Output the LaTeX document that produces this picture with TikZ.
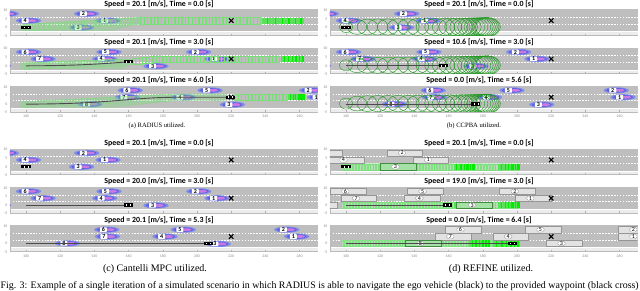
\documentclass[tikz,border=0pt]{standalone}
\usepackage{fontspec}
\setmainfont{Liberation Serif}
\newfontfamily\ttlfont{Carlito}
\usepackage{graphicx}
\definecolor{roadgray}{RGB}{190,190,190}
\definecolor{stripgray}{RGB}{236,236,236}
\definecolor{axgray}{RGB}{140,140,140}
\definecolor{vehblue}{RGB}{90,100,225}
\definecolor{vehblueL}{RGB}{130,140,232}
\definecolor{vehpink}{RGB}{205,120,225}
\definecolor{lgreen}{RGB}{115,225,115}
\definecolor{bgreen}{RGB}{0,235,0}
\definecolor{dgreen}{RGB}{25,150,25}
\definecolor{trajgray}{RGB}{75,75,75}
\definecolor{boxgray}{RGB}{226,226,226}
\definecolor{boxedge}{RGB}{150,150,150}
\tikzset{
  ttl/.style={font=\ttlfont\bfseries\fontsize{7.9}{7.9}\selectfont, inner sep=0pt},
  ticklab/.style={font=\ttlfont\fontsize{3.9}{3.9}\selectfont, text=axgray, inner sep=0pt},
  vlabel/.style={fill=white, inner sep=0pt, minimum width=7pt, minimum height=4.6pt, rounded corners=0.6pt, font=\ttlfont\bfseries\fontsize{6}{6}\selectfont},
  rlabel/.style={fill=white, draw=boxedge, line width=0.3pt, inner sep=0pt, minimum width=7.5pt, minimum height=4.6pt, rounded corners=1.8pt, font=\ttlfont\fontsize{6}{6}\selectfont},
  subcap/.style={font=\fontsize{6.6}{6.6}\selectfont, inner sep=0pt},
  subcapB/.style={font=\fontsize{10}{10}\selectfont, inner sep=0pt},
  lane/.style={white, line width=0.5pt, dash pattern=on 1.6pt off 1.3pt},
  traj/.style={trajgray, line width=0.9pt},
  ladderbox/.style={lgreen, line width=0.35pt},
  agpoly/.style={fill=lgreen, fill opacity=0.3, draw=lgreen, draw opacity=0.8, line width=0.35pt},
  ring/.style={dgreen, line width=0.4pt},
  rbx/.style={fill=boxgray, draw=boxedge, line width=0.35pt},
  rbxg/.style={fill=lgreen!55!boxgray, draw=dgreen!60!gray, line width=0.35pt},
}
% vehicles (ellipses)
\newcommand\vehnl[2]{%
  \fill[vehblueL] (#1+2,#2) ellipse [x radius=7.4, y radius=1.8];
  \fill[vehblue] (#1+2,#2) ellipse [x radius=5.8, y radius=1.35];
  \fill[vehpink] (#1+4,#2) ellipse [x radius=2.8, y radius=0.85];}
\newcommand\veh[3]{\vehnl{#1}{#2}\node[vlabel] (\spn-v#3) at (#1,#2) {#3};}
% REFINE boxes
\newcommand\rboxnl[2]{\draw[rbx] (#1,#2-1.85) rectangle (#1+21,#2+1.85);}
\newcommand\rbox[4][rbx]{\draw[#1] (#2,#3-1.85) rectangle (#2+21,#3+1.85);
  \node[rlabel] (\spn-r#4) at (#2+9,#3) {#4};}
% ego vehicle
\newcommand\ego[2]{%
  \fill[black] (#1-2.65,#2-0.95) rectangle (#1+2.65,#2+0.95);
  \fill[white] (#1-1.4,#2-0.5) rectangle (#1-0.9,#2+0.5);
  \fill[white] (#1+0.9,#2-0.5) rectangle (#1+1.4,#2+0.5);}
% waypoint cross
\newcommand\wpt[2]{\draw[black,line width=1.1pt] (#1-1.3,#2-1.3) -- (#1+1.3,#2+1.3) (#1-1.3,#2+1.3) -- (#1+1.3,#2-1.3);}
% green ladders
\newcommand\ramp[6]{%
  \foreach \xx in {#1,#2,...,#3}{%
    \pgfmathsetmacro\yy{#4+(#5-#4)*(\xx-#1)/(#3-#1)}%
    \draw[ladderbox, opacity=#6] (\xx-1.1,\yy-1.8) rectangle (\xx+1.1,\yy+1.8);}}
\newcommand\brightend[3]{%
  \fill[lgreen!70!bgreen, opacity=0.9] (#1,#3-1.8) rectangle (#2,#3+1.8);
  \foreach \f/\w in {0.12/0.7,0.3/1.0,0.48/0.6,0.62/1.3,0.78/0.9,0.9/1.5}{%
    \pgfmathsetmacro\bx{#1+\f*(#2-#1)}%
    \fill[bgreen] (\bx,#3-1.8) rectangle ++(\w,3.6);}}
\newcommand\refchain[2]{%
  \fill[lgreen!50, opacity=0.6] (97,-2) rectangle (201.5,2);
  \foreach \xx in {98,99.7,...,200.5} \draw[ladderbox, opacity=0.8] (\xx-0.6,-1.8) rectangle (\xx+0.6,1.8);
  \brightend{#1}{#1+12}{0}
  \brightend{#2}{201.5}{0}}
% CCPBA rings
\newcommand\rings{%
  \foreach \cx/\rx/\ry in {100/3.8/3.2,106.5/5.6/4.3,112.5/6.0/4.6,118.5/6.1/4.7,124.5/6.2/4.7,130.5/6.3/4.8,136.5/6.3/4.8,142/6.4/4.9,147.5/6.5/4.9,152.5/6.5/5.0,157/6.6/5.0,161/6.7/5.1,164.5/6.8/5.1,167.5/6.8/5.2,170/6.9/5.2,172.2/6.9/5.3,174.2/7.0/5.3,176/7.0/5.3,177.6/7.1/5.4,179/7.1/5.4,180.2/7.2/5.4,181.3/7.2/5.5,182.3/7.2/5.5,183/7.3/5.5}
    \draw[ring] (\cx,0.3) ellipse [x radius=\rx, y radius=\ry];}
% vehicle sets
\newcommand\vehsA{\vehnl{86.5}{8}\veh{99.5}{4}{4}\veh{133.5}{8}{2}\veh{146}{4}{1}\veh{130.5}{0}{3}}
\newcommand\vehsB{\vehnl{82}{0}\veh{99.5}{8}{6}\veh{108}{4}{7}\veh{146.5}{8}{5}\veh{144}{4}{4}\veh{199}{8}{2}\veh{209.7}{4}{1}\veh{174}{-0.2}{3}}
\newcommand\vehsC{\veh{159}{8}{6}\veh{157.3}{4}{7}\veh{205.6}{8}{5}\veh{190}{4}{4}\veh{265}{8}{2}\veh{269.6}{4}{1}\veh{218.7}{-0.3}{3}\veh{135.5}{0}{8}}
\newcommand\vehsD{\veh{149}{8}{6}\veh{195}{8}{5}\veh{256}{8}{2}\veh{149.7}{4}{7}\veh{181.9}{4}{4}\veh{260}{4}{1}\veh{212.5}{-0.3}{3}\veh{126.3}{0}{8}}
\newcommand\vehsE{\veh{145.2}{8}{6}\veh{145.6}{4}{7}\veh{190}{8}{5}\veh{179.3}{4}{4}\veh{250.5}{8}{2}\veh{256.3}{4}{1}\veh{210.5}{-0.3}{3}\veh{122.2}{0}{8}}
% x tick labels
\newcommand\xticks{\foreach \tk in {100,120,...,260} \node[ticklab] (\spn-x\tk) at (\tk,-7.27) {\tk};}
% one subplot
\newcommand\panel[6]{%
 \begin{scope}[shift={(#1pt-171pt,-#2pt)}, x=1.71pt, y=1.72pt]
   \def\spn{#3}%
   \node[ttl] (#3-title) at (177.8,13.66) {#4};
   \fill[stripgray] (90.5,-4.5) rectangle (270.5,10.5);
   \fill[roadgray] (90.5,-2.3) rectangle (270.5,10.5);
   \draw[white,line width=0.5pt] (90.5,-2.3) -- (270.5,-2.3);
   \draw[lane] (90.5,2) -- (270.5,2);
   \draw[lane] (90.5,6) -- (270.5,6);
   \foreach \tk in {100,120,...,260} \draw[axgray!70, line width=0.3pt] (\tk,-4.5) -- (\tk,-3.6);
   \draw[axgray!60, line width=0.3pt] (90.5,10.5) -- (90.5,-4.5) -- (270.5,-4.5);
   \foreach \tk in {10,5,0,-5} \node[ticklab, anchor=east] (#3-y\tk) at (89.2,\tk) {\tk};
   \begin{scope}
     \clip (90.5,-4.5) rectangle (270.5,10.5);
     #5
   \end{scope}
   #6
 \end{scope}}
\begin{document}
\begin{tikzpicture}
\useasboundingbox (0,0) rectangle (640pt,-290pt);
\fill[white] (0,0) rectangle (640pt,-290pt);
% ---------- (a) RADIUS ----------
\panel{26}{27.5}{a1}{Speed = 20.1 [m/s], Time = 0.0 [s]}{%
  \vehsA
  \fill[agpoly] (97,-1.6) -- (150,-1.6) -- (166,2.2) -- (166,5.9) -- (97,1.7) -- cycle;
  \ramp{100}{103}{166}{0}{4}{0.45}
  \ramp{168}{170}{236}{4}{4}{0.9}
  \brightend{238}{262.5}{4}
  \wpt{220}{4}
  \ego{100}{0}}{}
\panel{26}{65.8}{a2}{Speed = 20.1 [m/s], Time = 3.0 [s]}{%
  \vehsB
  \fill[agpoly] (97,-1.6) -- (156,-1.6) -- (161,0.6) -- (161,4.0) -- (97,1.7) -- cycle;
  \ramp{100}{103}{157}{0}{2.3}{0.45}
  \ramp{163}{165}{177}{2.6}{4}{0.9}
  \ramp{179}{181}{247}{4}{4}{0.9}
  \brightend{249}{262.5}{4}
  \draw[traj] (100,0) .. controls (130,0) and (145,1.2) .. (160,2.3);
  \wpt{220}{4}
  \ego{160}{2.3}}{}
\panel{26}{104.1}{a3}{Speed = 20.1 [m/s], Time = 6.0 [s]}{%
  \vehsC
  \fill[agpoly] (97,-1.8) -- (150,-1.8) -- (188,2.2) -- (217,2.2) -- (217,5.8) -- (186,5.8) -- (97,1.2) -- cycle;
  \ramp{100}{104}{184}{0}{4}{0.35}
  \ramp{223}{225}{251}{4}{4}{0.9}
  \brightend{253}{262.5}{4}
  \draw[traj] (100,0) .. controls (150,0) and (160,4) .. (190,4) -- (219.5,4);
  \wpt{220}{4}
  \ego{219.5}{4}}{\xticks}
% ---------- (b) CCPBA ----------
\panel{346}{27.5}{b1}{Speed = 20.1 [m/s], Time = 0.0 [s]}{%
  \vehsA
  \rings
  \wpt{220}{4}
  \ego{100}{0}}{}
\panel{346}{65.8}{b2}{Speed = 10.6 [m/s], Time = 3.0 [s]}{%
  \vehsB
  \rings
  \draw[traj] (100,0) -- (157,0);
  \wpt{220}{4}
  \ego{157}{0}}{}
\panel{346}{104.1}{b3}{Speed = 0.0 [m/s], Time = 5.6 [s]}{%
  \vehsD
  \rings
  \draw[traj] (100,0) -- (176,0);
  \wpt{220}{4}
  \ego{176}{0}}{\xticks}
% ---------- (c) Cantelli MPC ----------
\panel{26}{166.8}{c1}{Speed = 20.1 [m/s], Time = 0.0 [s]}{%
  \vehsA
  \wpt{220}{4}
  \ego{100}{0}}{}
\panel{26}{205.1}{c2}{Speed = 20.0 [m/s], Time = 3.0 [s]}{%
  \vehsB
  \draw[traj] (100,0) -- (160,0);
  \wpt{220}{4}
  \ego{160}{0}}{}
\panel{26}{243.4}{c3}{Speed = 20.1 [m/s], Time = 5.3 [s]}{%
  \vehsE
  \draw[traj] (100,0) -- (206.6,0);
  \wpt{220}{4}
  \ego{206.6}{0}}{\xticks}
% ---------- (d) REFINE ----------
\panel{346}{166.8}{d1}{Speed = 20.1 [m/s], Time = 0.0 [s]}{%
  \refchain{163}{189}
  \rboxnl{76.5}{8}
  \rbox{123.8}{8}{2}
  \rbox{89.5}{4}{4}
  \rbox{139}{4}{1}
  \rbox[rbxg]{119.9}{0}{3}
  \wpt{220}{4}
  \ego{100}{0}}{}
\panel{346}{205.1}{d2}{Speed = 19.0 [m/s], Time = 3.0 [s]}{%
  \refchain{163}{189}
  \rboxnl{73.6}{0}
  \rbox{90.6}{8}{6}
  \rbox{135.8}{8}{5}
  \rbox{189.7}{8}{2}
  \rbox{96.9}{4}{7}
  \rbox{133.9}{4}{4}
  \rbox{198.8}{4}{1}
  \rbox[rbxg]{164.7}{0}{3}
  \draw[traj] (100,0) -- (159.5,0);
  \wpt{220}{4}
  \ego{159.5}{0}}{}
\panel{346}{243.4}{d3}{Speed = 0.0 [m/s], Time = 6.4 [s]}{%
  \refchain{172}{186}
  \rbox{157.9}{8}{6}
  \rbox{204.7}{8}{5}
  \rbox{259}{8}{2}
  \rbox{152}{4}{7}
  \rbox{185.8}{4}{4}
  \rbox{259}{4}{1}
  \rbox{217}{0}{3}
  \rbox[rbxg]{134.5}{0}{8}
  \draw[traj] (100,0) -- (197.4,0);
  \wpt{220}{4}
  \ego{197.4}{0}}{\xticks}
% ---------- captions ----------
\node[subcap] (capa) at (157pt,-126pt) {(a) RADIUS utilized.};
\node[subcap] (capb) at (474pt,-126pt) {(b) CCPBA utilized.};
\node[subcapB] (capc) at (155pt,-269.5pt) {(c) Cantelli MPC utilized.};
\node[subcapB] (capd) at (491pt,-269.5pt) {(d) REFINE utilized.};
\node[anchor=base west, inner sep=0pt] (figcap) at (0.5pt,-288.5pt)
  {\resizebox{638pt}{!}{\fontsize{10}{12}\selectfont Fig. 3: Example of a single iteration of a simulated scenario in which RADIUS is able to navigate the ego vehicle (black) to the provided waypoint (black cross)}};
\end{tikzpicture}
\end{document}
